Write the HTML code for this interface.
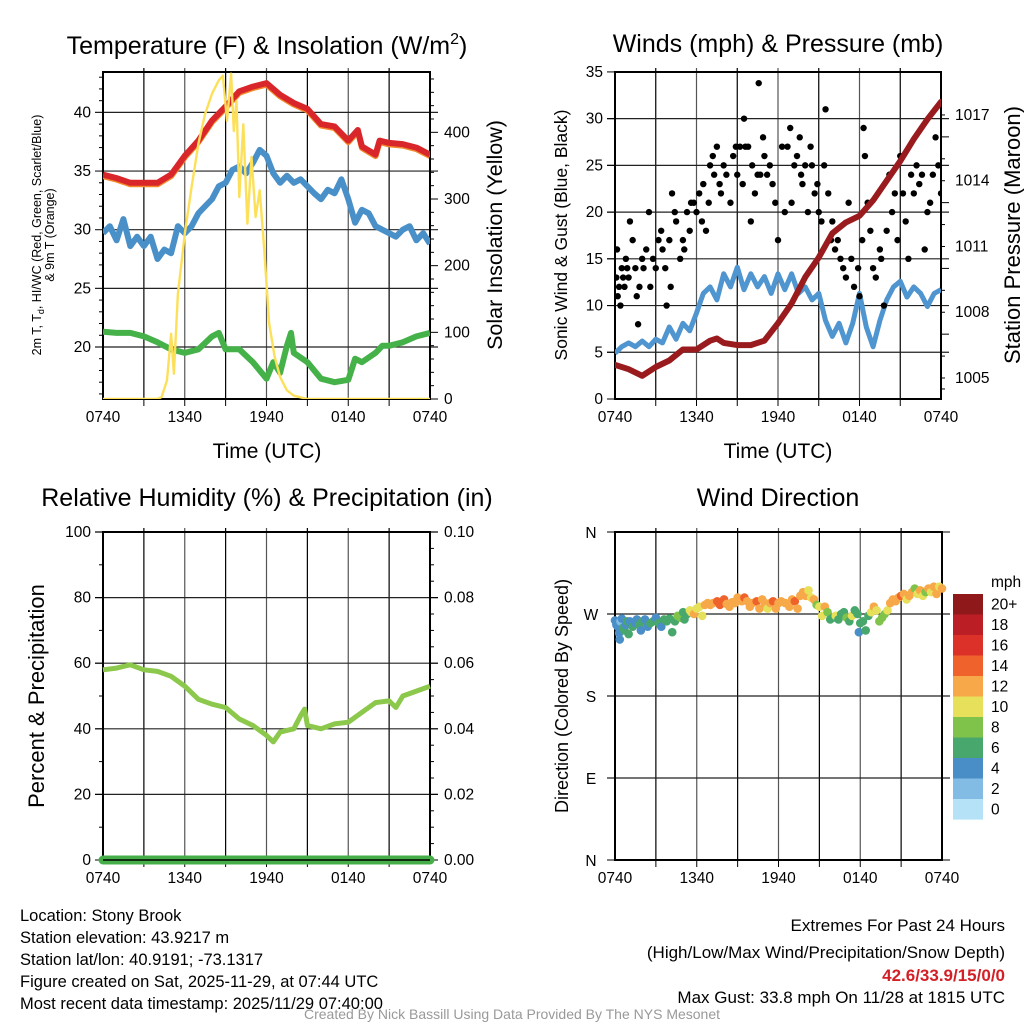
<!DOCTYPE html>
<html><head><meta charset="utf-8"><style>
html,body{margin:0;padding:0;background:#fff;}
svg{display:block;font-family:"Liberation Sans",sans-serif;}
</style></head><body>
<svg id="fig" width="1024" height="1024" viewBox="0 0 1024 1024"></svg>
<script>
// ---------- DATA ----------
const hours = [0,1,2,3,4,5,6,7,8,9,10,11,12,13,14,15,16,17,18,18.7,19,20,20.3,21,22,23,24];
const tempF = [34.7,34.4,34.0,34.0,34.0,34.7,36.3,37.6,39.3,40.5,41.8,42.2,42.5,41.5,40.8,40.3,39.0,38.8,37.6,38.5,37.1,36.4,37.6,37.4,37.3,37.0,36.4];
const wcHours = [0,0.5,1,1.5,2,2.5,3,3.5,4,4.5,5,5.5,6,6.5,7,7.5,8,8.5,9,9.5,10,10.5,11,11.5,12,12.5,13,13.5,14,14.5,15,15.5,16,16.5,17,17.5,18,18.5,19,19.5,20,20.5,21,21.5,22,22.5,23,23.5,24];
const wcF = [29.7,30.3,29.1,30.9,28.6,29.4,28.6,29.4,27.5,28.3,28.0,30.3,29.7,30.3,31.4,32.0,32.6,33.7,34.0,35.1,35.4,34.8,35.7,36.8,36.3,34.8,34.0,34.6,34.0,34.3,33.7,33.1,32.6,33.4,33.1,34.3,32.6,30.6,31.7,31.4,30.3,30.0,29.7,29.4,30.0,30.3,29.1,29.7,28.8];
const tdHours = [0,1,2,3,4,5,6,7,8,8.5,9,10,11,12,12.5,13,13.5,13.8,14,15,16,17,18,18.5,19,20,20.5,21,22,23,24];
const tdF = [21.3,21.2,21.2,20.9,20.4,19.8,19.5,19.8,20.9,21.2,19.8,19.8,18.7,17.3,18.7,17.8,20.1,21.2,19.5,18.7,17.3,17.0,17.2,19.0,18.7,19.5,20.1,20.1,20.4,20.9,21.2];
const solHours = [0,4,4.3,4.7,5,5.2,5.5,6,6.5,7,7.5,8,8.5,8.8,9.1,9.4,9.6,9.8,10,10.3,10.6,10.9,11.2,11.5,11.8,12.2,12.6,13,13.5,14,15,24];
const solW = [0,0,3,28,98,38,158,248,318,383,428,458,478,485,417,488,402,447,303,412,263,363,273,313,233,113,63,33,13,5,0,0];

const presHours = [0,1,2,3,4,5,6,7,7.5,8,9,10,11,12,13,14,15,16,17,18,19,20,21,22,23,24];
const presMb = [1005.6,1005.4,1005.1,1005.5,1005.8,1006.3,1006.3,1006.7,1006.8,1006.6,1006.5,1006.5,1006.7,1007.5,1008.4,1009.6,1010.5,1011.6,1012.1,1012.4,1013.1,1014.0,1014.9,1015.9,1016.8,1017.6];
const windHours = [0,0.5,1,1.5,2,2.5,3,3.5,4,4.5,5,5.5,6,6.5,7,7.5,8,8.5,9,9.5,10,10.5,11,11.5,12,12.5,13,13.5,14,14.5,15,15.5,16,16.5,17,17.5,18,18.5,19,19.5,20,20.5,21,21.5,22,22.5,23,23.5,24];
const windMph = [4.9,5.6,6.0,5.6,6.2,5.6,6.4,6.0,7.7,6.4,8.1,7.3,9.2,11.3,12.0,10.6,13.4,12.0,14.1,11.7,13.4,12.0,13.1,11.3,13.4,11.7,13.4,11.3,12.0,10.6,11.3,8.4,6.7,8.1,6.0,8.1,11.3,7.7,5.6,8.4,10.6,12.0,12.6,10.9,12.0,11.3,9.9,11.3,11.7];
const gustHours = [0.1,0.15,0.2,0.3,0.4,0.5,0.6,0.7,0.8,0.9,1.0,1.1,1.3,1.5,1.6,1.7,1.8,2.0,2.1,2.3,2.5,2.6,2.8,3.0,3.2,3.4,3.5,3.7,3.8,4.0,4.1,4.2,4.4,4.5,4.8,5.0,5.1,5.3,5.5,5.6,5.8,6.0,6.2,6.4,6.5,6.7,6.9,7.0,7.2,7.3,7.5,7.7,7.8,8.0,8.2,8.5,8.7,8.9,9.0,9.2,9.4,9.5,9.6,9.8,10.0,10.1,10.3,10.5,10.58,10.7,10.9,11.0,11.2,11.4,11.6,11.8,12.0,12.3,12.5,12.7,12.9,13.0,13.2,13.4,13.6,13.7,13.8,14.0,14.2,14.4,14.5,14.7,14.9,15.0,15.2,15.4,15.5,15.7,15.9,16.0,16.2,16.4,16.6,16.8,17.0,17.2,17.4,17.6,17.9,18.0,18.2,18.3,18.4,18.6,18.8,19.0,19.2,19.5,19.6,19.8,20.0,20.2,20.4,20.6,20.8,21.0,21.2,21.4,21.6,21.8,22.0,22.2,22.4,22.6,22.8,23.0,23.2,23.4,23.6,23.8,24.0];
const gustMph = [13,16,11,12,10,14,13,12,15,14,13,19,17,14,11,8,12,15,14,16,20,12,15,14,17,18,16,14,10,17,12,22,20,19,15,17,16,20,18,21,21,20,22,19,23,18,21,25,26,24,27,23,22,25,24,21,26,27,24,27,23,30,27,27,19,25,22,24,33.8,24,28,26,24,25,23,21,17,27,20,27,29,21,25,26,28,24,23,25,20,27,25,22,23,20,19,25,31,22,17,19,16,17,15,14,13,21,15,12,14,11,17,29,26,21,18,14,13,16,15,10,18,24,20,22,17,26,22,19,15,24,22,25,23,24,16,20,21,24,28,25,22];

const rhHours = [0,1,2,3,4,5,6,7,8,9,10,11,12,12.5,13,14,14.5,14.8,15,16,17,18,19,20,21,21.5,22,23,24];
const rhPct = [58,58.5,59.5,58,57.5,56,53,49,47.5,46.5,43,41,38,36,39,40,44,46,41,40,41.5,42,45,48,48.5,46.5,50,51.5,53];
const precipHours = [0,24];
const precipIn = [0,0];

const dirHours = [0.0,0.1,0.2,0.3,0.35,0.4,0.5,0.6,0.7,0.8,0.9,1.0,1.1,1.3,1.5,1.6,1.8,1.9,2.0,2.2,2.4,2.6,2.8,3.0,3.2,3.4,3.6,3.8,4.0,4.2,4.4,4.6,4.8,5.0,5.1,5.3,5.5,5.6,5.8,6.0,6.2,6.4,6.6,6.8,7.0,7.2,7.5,7.7,8.0,8.2,8.4,8.6,8.8,9.0,9.1,9.3,9.5,9.7,9.9,10.1,10.4,10.6,10.8,11.0,11.2,11.4,11.6,11.8,12.0,12.2,12.5,12.8,13.0,13.2,13.4,13.6,13.8,14.0,14.2,14.4,14.6,14.8,15.0,15.2,15.4,15.6,15.8,16.0,16.2,16.4,16.6,16.8,17.0,17.2,17.4,17.6,17.8,17.9,18.0,18.2,18.4,18.6,18.8,19.0,19.2,19.4,19.6,19.8,20.0,20.2,20.4,20.6,20.8,21.0,21.2,21.4,21.6,21.8,22.0,22.2,22.4,22.6,22.8,23.0,23.2,23.4,23.6,23.8,24.0];
const dirDeg = [263,258,256,249,242,262,265,255,252,258,262,248,262,256,260,264,258,252,262,264,256,260,262,266,260,256,264,262,265,250,262,268,266,272,264,270,274,272,270,276,278,268,280,282,280,282,284,280,286,281,278,283,282,288,286,284,288,284,278,282,284,276,286,282,276,282,284,276,282,284,282,278,286,284,276,290,294,290,296,288,286,280,278,268,278,272,264,266,268,264,270,272,266,262,268,274,270,250,260,262,252,268,272,278,274,262,266,270,274,282,286,284,288,290,292,286,290,294,298,292,296,290,294,298,294,300,292,300,298];
const dirSpeed = [4,4,4,4,4,3,4,6,6,5,6,6,4,7,4,4,6,4,6,4,4,6,6,5,6,4,7,7,7,6,7,8,8,7,7,6,10,11,12,10,11,10,12,13,12,12,14,14,15,12,12,13,12,13,12,13,15,13,12,13,14,12,12,12,10,12,14,12,13,12,12,12,13,14,12,12,12,12,10,11,12,8,10,10,12,8,6,6,10,7,6,6,8,6,10,7,6,4,6,6,6,6,11,12,10,8,8,8,10,12,12,12,12,14,12,10,12,12,8,10,12,10,8,12,10,12,12,10,12];
const cbLabels = ["20+","18","16","14","12","10","8","6","4","2","0"];
const cbColors = ["#8f181b","#bb1e25","#dc3129","#ef622b","#f7a848","#e6e05b","#80c34b","#48a76c","#4a8ec7","#82bbe3","#b5e2f6"];
const xTickLabels = ["0740","1340","1940","0140","0740"];

// ---------- HELPERS ----------
const NS = "http://www.w3.org/2000/svg";
const svg = document.getElementById('fig');
const TICK = 15.5;
function mk(tag, attrs, parent, text){
  const e = document.createElementNS(NS, tag);
  for (const k in attrs) e.setAttribute(k, attrs[k]);
  if (text !== undefined) e.textContent = text;
  (parent || svg).appendChild(e);
  return e;
}
function grp(name){
  const g = mk('g', {});
  
  
  return g;
}
function txt(parent, x, y, s, size, anchor, name, extra){
  const a = {x:x, y:y, 'font-size':size, 'text-anchor':anchor||'middle', fill:'#000'};
  if (extra) for (const k in extra) a[k] = extra[k];
  const t = mk('text', a, parent, s);
  
  
  return t;
}
function pathFrom(xs, ys, fx, fy){
  let d = '';
  for (let i = 0; i < xs.length; i++) d += (i ? 'L' : 'M') + fx(xs[i]).toFixed(1) + ',' + fy(ys[i]).toFixed(1);
  return d;
}
function frame(g, x0, x1, y0, y1, hgrid){
  for (let h = 3; h < 24; h += 3){
    const x = x0 + (x1 - x0) * h / 24;
    const l = mk('line', {x1:x, x2:x, y1:y0 - 4, y2:y1, stroke: (h % 6 === 0) ? '#555' : '#000', 'stroke-width':1.2}, g);
    
    
    mk('line', {x1:x, x2:x, y1:y1, y2:y1 + 7, stroke:'#000', 'stroke-width':1}, g);
  }
  hgrid.forEach(y => {
    const l = mk('line', {x1:x0 - 8, x2:x1 + 8, y1:y, y2:y, stroke:'#222', 'stroke-width':1.2}, g);
    
    
  });
  const r = mk('rect', {x:x0, y:y0, width:x1 - x0, height:y1 - y0, fill:'none', stroke:'#000', 'stroke-width':2}, g);
  
  
  xTickLabels.forEach((s, i) => {
    txt(g, x0 + (x1 - x0) * i / 4, y1 + 23, s, TICK, 'middle', 'x-tick-label');
  });
}

// ---------- PANEL 1: Temperature ----------
(function(){
  const g = grp('temperature-panel');
  const x0 = 103, x1 = 430, y0 = 72, y1 = 399;
  const X = h => x0 + (x1 - x0) * h / 24;
  const Y = v => 347 - (v - 20) * 11.73;
  const YS = w => 399 - w * 0.6667;
  frame(g, x0, x1, y0, y1, [20,25,30,35,40].map(Y));
  for (let v = 16; v <= 43; v++) if (v % 5) mk('line', {x1:x0 - 4, x2:x0, y1:Y(v), y2:Y(v), stroke:'#000'}, g);
  [20,25,30,35,40].forEach(v => txt(g, x0 - 12, Y(v) + 5, String(v), TICK, 'end', 'left-tick-label'));
  for (let w = 0; w <= 480; w += 20) mk('line', {x1:x1, x2:x1 + (w % 100 ? 4 : 8), y1:YS(w), y2:YS(w), stroke:'#000'}, g);
  [0,100,200,300,400].forEach(w => txt(g, x1 + 14, YS(w) + 5, String(w), TICK, 'start', 'right-tick-label'));
  const clip = mk('clipPath', {id:'c1'}, g); mk('rect', {x:x0, y:y0, width:x1 - x0, height:y1 - y0}, clip);
  const s = mk('g', {'clip-path':'url(#c1)'}, g);
  let p;
  p = mk('path', {d:pathFrom(tdHours, tdF, X, Y), fill:'none', stroke:'#45b149', 'stroke-width':6, 'stroke-linejoin':'round'}, s);
   
  p = mk('path', {d:pathFrom(wcHours, wcF, X, Y), fill:'none', stroke:'#4a90c8', 'stroke-width':6, 'stroke-linejoin':'round'}, s);
   
  p = mk('path', {d:pathFrom(hours, tempF, X, Y), fill:'none', stroke:'#f4892c', 'stroke-width':6, 'stroke-linejoin':'round', transform:'translate(0,1.5)'}, s);
   
  p = mk('path', {d:pathFrom(hours, tempF, X, Y), fill:'none', stroke:'#d9262a', 'stroke-width':6, 'stroke-linejoin':'round'}, s);
   
  p = mk('path', {d:pathFrom(solHours, solW, X, YS), fill:'none', stroke:'#fde05a', 'stroke-width':2.4, 'stroke-linejoin':'round'}, s);
   
  const t = txt(g, 267, 54, '', 25, 'middle', 'temperature-title');
  t.innerHTML = 'Temperature (F) &amp; Insolation (W/m<tspan dy="-10" font-size="16">2</tspan><tspan dy="10">)</tspan>';
  txt(g, 267, 458, 'Time (UTC)', 21, 'middle', 'x-axis-title');
  const l1 = txt(g, 0, 0, '', 12.5, 'middle', 'left-axis-title', {transform:'translate(41,235) rotate(-90)'});
  l1.innerHTML = '2m T, T<tspan dy="3" font-size="9">d</tspan><tspan dy="-3">, HI/WC (Red, Green, Scarlet/Blue)</tspan>';
  txt(g, 0, 0, '& 9m T (Orange)', 12.5, 'middle', 'left-axis-title-2', {transform:'translate(54,235) rotate(-90)'});
  txt(g, 0, 0, 'Solar Insolation (Yellow)', 21.5, 'middle', 'right-axis-title', {transform:'translate(502,235) rotate(-90)'});
})();

// ---------- PANEL 2: Winds & Pressure ----------
(function(){
  const g = grp('winds-panel');
  const x0 = 615, x1 = 941, y0 = 72, y1 = 399;
  const X = h => x0 + (x1 - x0) * h / 24;
  const Y = v => 399 - v * 9.345;
  const YP = p => 378 - (p - 1005) * 21.92;
  frame(g, x0, x1, y0, y1, [5,10,15,20,25,30].map(Y));
  [0,5,10,15,20,25,30,35].forEach(v => { mk('line', {x1:x0 - 8, x2:x0, y1:Y(v), y2:Y(v), stroke:'#000'}, g); txt(g, x0 - 12, Y(v) + 5, String(v), TICK, 'end', 'left-tick-label'); });
  for (let p = 1005; p <= 1017; p++) mk('line', {x1:x1, x2:x1 + (p % 3 === 2 ? 8 : 4), y1:YP(p), y2:YP(p), stroke:'#000'}, g);
  mk('line', {x1:x1, x2:x1 + 4, y1:YP(1004.5), y2:YP(1004.5), stroke:'#000'}, g);
  [1005,1008,1011,1014,1017].forEach(p => txt(g, x1 + 14, YP(p) + 5, String(p), TICK, 'start', 'right-tick-label'));
  const clip = mk('clipPath', {id:'c2'}, g); mk('rect', {x:x0, y:y0, width:x1 - x0, height:y1 - y0}, clip);
  const s = mk('g', {'clip-path':'url(#c2)'}, g);
  let p = mk('path', {d:pathFrom(windHours, windMph, X, Y), fill:'none', stroke:'#4f95cf', 'stroke-width':5, 'stroke-linejoin':'round'}, s);
   
  gustHours.forEach((h, i) => {
    const c = mk('circle', {cx:X(h), cy:Y(gustMph[i]), r:3.2, fill:'#000'}, s);
    
    
  });
  p = mk('path', {d:pathFrom(presHours, presMb, X, YP), fill:'none', stroke:'#9a1b1e', 'stroke-width':6, 'stroke-linejoin':'round', 'stroke-linecap':'round'}, s);
   
  txt(g, 778, 52, 'Winds (mph) & Pressure (mb)', 25, 'middle', 'winds-title');
  txt(g, 778, 458, 'Time (UTC)', 21, 'middle', 'x-axis-title');
  txt(g, 0, 0, 'Sonic Wind & Gust (Blue, Black)', 17.5, 'middle', 'left-axis-title', {transform:'translate(567,235) rotate(-90)'});
  txt(g, 0, 0, 'Station Pressure (Maroon)', 22, 'middle', 'right-axis-title', {transform:'translate(1020,235) rotate(-90)'});
})();

// ---------- PANEL 3: RH & Precip ----------
(function(){
  const g = grp('humidity-panel');
  const x0 = 103, x1 = 430, y0 = 532, y1 = 860;
  const X = h => x0 + (x1 - x0) * h / 24;
  const Y = v => 860 - v * 3.28;
  const YR = v => 860 - v * 3280;
  frame(g, x0, x1, y0, y1, [20,40,60,80,100].map(Y));
  for (let v = 0; v <= 100; v += 10) mk('line', {x1:x0 - (v % 20 ? 4 : 8), x2:x0, y1:Y(v), y2:Y(v), stroke:'#000'}, g);
  [0,20,40,60,80,100].forEach(v => txt(g, x0 - 12, Y(v) + 5, String(v), TICK, 'end', 'left-tick-label'));
  for (let v = 0; v <= 100; v += 5) mk('line', {x1:x1, x2:x1 + (v % 20 ? 4 : 8), y1:Y(v), y2:Y(v), stroke:'#000'}, g);
  ["0.00","0.02","0.04","0.06","0.08","0.10"].forEach((s, i) => txt(g, x1 + 14, Y(i * 20) + 5, s, TICK, 'start', 'right-tick-label'));
  let p = mk('path', {d:pathFrom(rhHours, rhPct, X, Y), fill:'none', stroke:'#8cc84b', 'stroke-width':5, 'stroke-linejoin':'round'}, g);
   
  p = mk('path', {d:pathFrom(precipHours, precipIn, X, YR), fill:'none', stroke:'#46ae49', 'stroke-width':9, 'stroke-linecap':'round'}, g);
   
  mk('line', {x1:x0, x2:x1, y1:y1, y2:y1, stroke:'#000', 'stroke-width':1.5}, g);
  txt(g, 267, 506, 'Relative Humidity (%) & Precipitation (in)', 25, 'middle', 'humidity-title');
  txt(g, 0, 0, 'Percent & Precipitation', 22, 'middle', 'left-axis-title', {transform:'translate(44,696) rotate(-90)'});
})();

// ---------- PANEL 4: Wind direction ----------
(function(){
  const g = grp('wind-direction-panel');
  const x0 = 615, x1 = 942, y0 = 532, y1 = 860;
  const X = h => x0 + (x1 - x0) * h / 24;
  const Y = d => 860 - d * 0.9111;
  frame(g, x0, x1, y0, y1, [90,180,270].map(Y));
  mk('line', {x1:x0 - 8, x2:x1 + 8, y1:y0, y2:y0, stroke:'#000'}, g);
  mk('line', {x1:x0 - 8, x2:x1 + 8, y1:y1, y2:y1, stroke:'#000'}, g);
  ["N","E","S","W","N"].forEach((s, i) => txt(g, x0 - 24, Y(i * 90) + 6, s, TICK, 'middle', 'direction-tick-label'));
  const clip = mk('clipPath', {id:'c4'}, g); mk('rect', {x:x0 - 6, y:y0, width:x1 - x0 + 12, height:y1 - y0}, clip);
  const s = mk('g', {'clip-path':'url(#c4)'}, g);
  dirHours.forEach((h, i) => {
    const bin = Math.min(10, Math.floor(dirSpeed[i] / 2));
    const c = mk('circle', {cx:X(h), cy:Y(dirDeg[i]), r:4.3, fill:cbColors[10 - bin]}, s);
    
    
  });
  txt(g, 778, 506, 'Wind Direction', 25, 'middle', 'wind-direction-title');
  txt(g, 0, 0, 'Direction (Colored By Speed)', 18, 'middle', 'left-axis-title', {transform:'translate(568,696) rotate(-90)'});
  const cb = grp('speed-colorbar');
  cbColors.forEach((c, i) => {
    const r = mk('rect', {x:953, y:594 + i * 20.5, width:30, height:20.6, fill:c}, cb);
    
    
    txt(cb, 991, 609.5 + i * 20.5, cbLabels[i], TICK, 'start', 'colorbar-label');
  });
  txt(cb, 991, 587, 'mph', TICK, 'start', 'colorbar-title');
})();

// ---------- FOOTER TEXT ----------
(function(){
  const g = grp('station-info');
  ["Location: Stony Brook","Station elevation: 43.9217 m","Station lat/lon: 40.9191; -73.1317","Figure created on Sat, 2025-11-29, at 07:44 UTC","Most recent data timestamp: 2025/11/29 07:40:00"].forEach((s, i) => txt(g, 20, 921 + i * 22, s, 16.5, 'start', 'station-info-line'));
  const e = grp('extremes-info');
  txt(e, 1005, 931, 'Extremes For Past 24 Hours', 17, 'end', 'extremes-title');
  txt(e, 1005, 958, '(High/Low/Max Wind/Precipitation/Snow Depth)', 17, 'end', 'extremes-subtitle');
  txt(e, 1005, 981, '42.6/33.9/15/0/0', 17, 'end', 'extremes-values', {fill:'#d32027', 'font-weight':'bold'});
  txt(e, 1005, 1003, 'Max Gust: 33.8 mph On 11/28 at 1815 UTC', 17, 'end', 'max-gust');
  txt(svg, 512, 1019, 'Created By Nick Bassill Using Data Provided By The NYS Mesonet', 14, 'middle', 'credit-line', {fill:'#999'});
})();
</script>
</body></html>
